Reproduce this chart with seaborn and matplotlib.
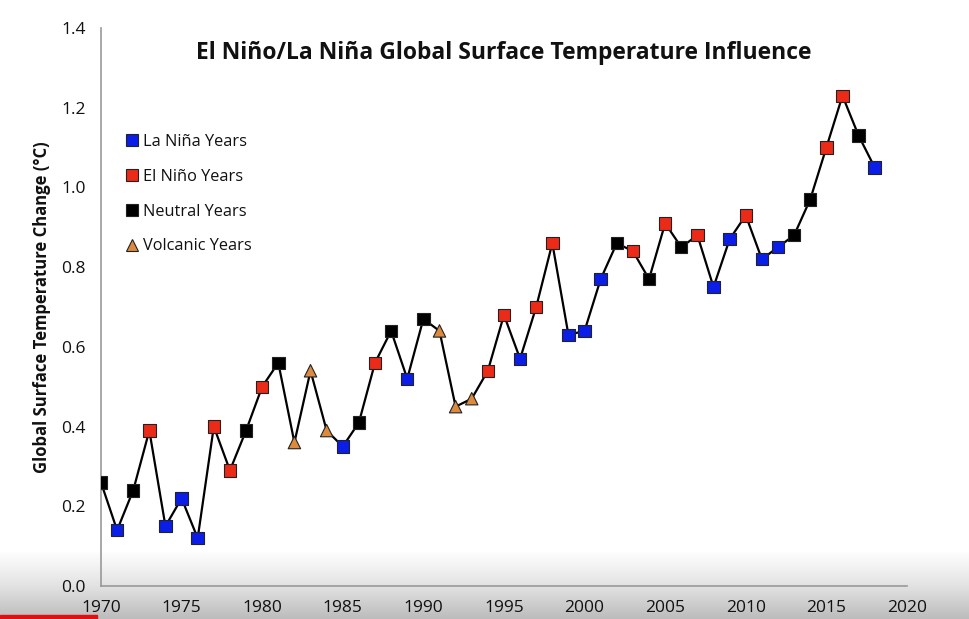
import numpy as np
import pandas as pd
import matplotlib
matplotlib.use("Agg")
import matplotlib.pyplot as plt
from matplotlib.lines import Line2D
from matplotlib.patches import Rectangle
import seaborn as sns

years = list(range(1970, 2019))
temps = [0.26, 0.14, 0.24, 0.39, 0.15, 0.22, 0.12, 0.40, 0.29, 0.39,
         0.50, 0.56, 0.36, 0.54, 0.39, 0.35, 0.41, 0.56, 0.64, 0.52,
         0.67, 0.64, 0.45, 0.47, 0.54, 0.68, 0.57, 0.70, 0.86, 0.63,
         0.64, 0.77, 0.86, 0.84, 0.77, 0.91, 0.85, 0.88, 0.75, 0.87,
         0.93, 0.82, 0.85, 0.88, 0.97, 1.10, 1.23, 1.13, 1.05]
# L = La Niña, E = El Niño, N = Neutral, V = Volcanic
kinds = list("NLNELLLEEN"
             "ENVVVLNENL"
             "NVVVEELEEL"
             "LLNENENELL"
             "ELLNNEENL")

labels = {"L": "La Niña Years", "E": "El Niño Years",
          "N": "Neutral Years", "V": "Volcanic Years"}
order = ["La Niña Years", "El Niño Years", "Neutral Years", "Volcanic Years"]
palette = {"La Niña Years": "#0a1ee8", "El Niño Years": "#ec2a18",
           "Neutral Years": "#000000", "Volcanic Years": "#dc8a40"}
markers = {"La Niña Years": "s", "El Niño Years": "s",
           "Neutral Years": "s", "Volcanic Years": "^"}

df = pd.DataFrame({"Year": years, "Temp": temps,
                   "Type": [labels[k] for k in kinds]})

sns.set_theme(style="white")
plt.rcParams['font.family'] = ['Open Sans', 'DejaVu Sans']

fig = plt.figure(figsize=(9.7, 6.19), dpi=100, facecolor="white")

# bottom gradient band (screen overlay)
gax = fig.add_axes([0, 0, 1, 0.11], zorder=-5)
grad = np.linspace(0, 1, 100).reshape(-1, 1)
gax.imshow(grad, aspect="auto", cmap=matplotlib.colors.LinearSegmentedColormap.from_list(
    "g", ["#bcbcbc", "#e4e4e4", "#ffffff"]), extent=[0, 1, 0, 1], origin="lower")
gax.axis("off")
fig.patches.append(Rectangle((0, 0), 0.1, 0.006, transform=fig.transFigure,
                             color="#e01010", zorder=10))

ax = fig.add_axes([0.1041, 0.0533, 0.8309, 0.9015])
ax.set_facecolor("none")

sns.lineplot(data=df, x="Year", y="Temp", color="black", linewidth=1.6,
             ax=ax, zorder=2)
sns.scatterplot(data=df, x="Year", y="Temp", hue="Type", style="Type",
                hue_order=order, style_order=order, palette=palette,
                markers=markers, s=80, edgecolor="#222222", linewidth=0.8,
                ax=ax, zorder=3, legend=False)

ax.set_xlim(1970, 2020)
ax.set_ylim(0, 1.4)
ax.set_xticks(range(1970, 2021, 5))
ax.set_yticks(np.arange(0, 1.41, 0.2))
ax.set_yticklabels([f"{v:.1f}" for v in np.arange(0, 1.41, 0.2)])
ax.tick_params(axis="both", direction="out", length=5, width=1,
               color="#999999", labelsize=12.5, labelcolor="#111111", pad=6)
ax.tick_params(axis="x", pad=5)
for s in ["top", "right"]:
    ax.spines[s].set_visible(False)
for s in ["left", "bottom"]:
    ax.spines[s].set_color("#999999")
    ax.spines[s].set_linewidth(1.2)

ax.set_xlabel("")
ax.set_ylabel("Global Surface Temperature Change (°C)", fontsize=12,
              fontweight="bold", color="#111111", labelpad=7)

ax.set_title("El Niño/La Niña Global Surface Temperature Influence",
             fontsize=16.5, fontweight="bold", color="#111111", y=0.93)

handles = [Line2D([], [], linestyle="none", marker=markers[o], markersize=8.5,
                  markerfacecolor=palette[o], markeredgecolor="#222222",
                  markeredgewidth=0.8, label=o) for o in order]
leg = ax.legend(handles=handles, loc="upper left", frameon=False,
                bbox_to_anchor=(0.02, 0.822), fontsize=11.8,
                handletextpad=0.2, labelspacing=1.15, borderaxespad=0,
                handlelength=1.0)
for t in leg.get_texts():
    t.set_color("#111111")

fig.savefig("out.png", dpi=100, facecolor="white")
